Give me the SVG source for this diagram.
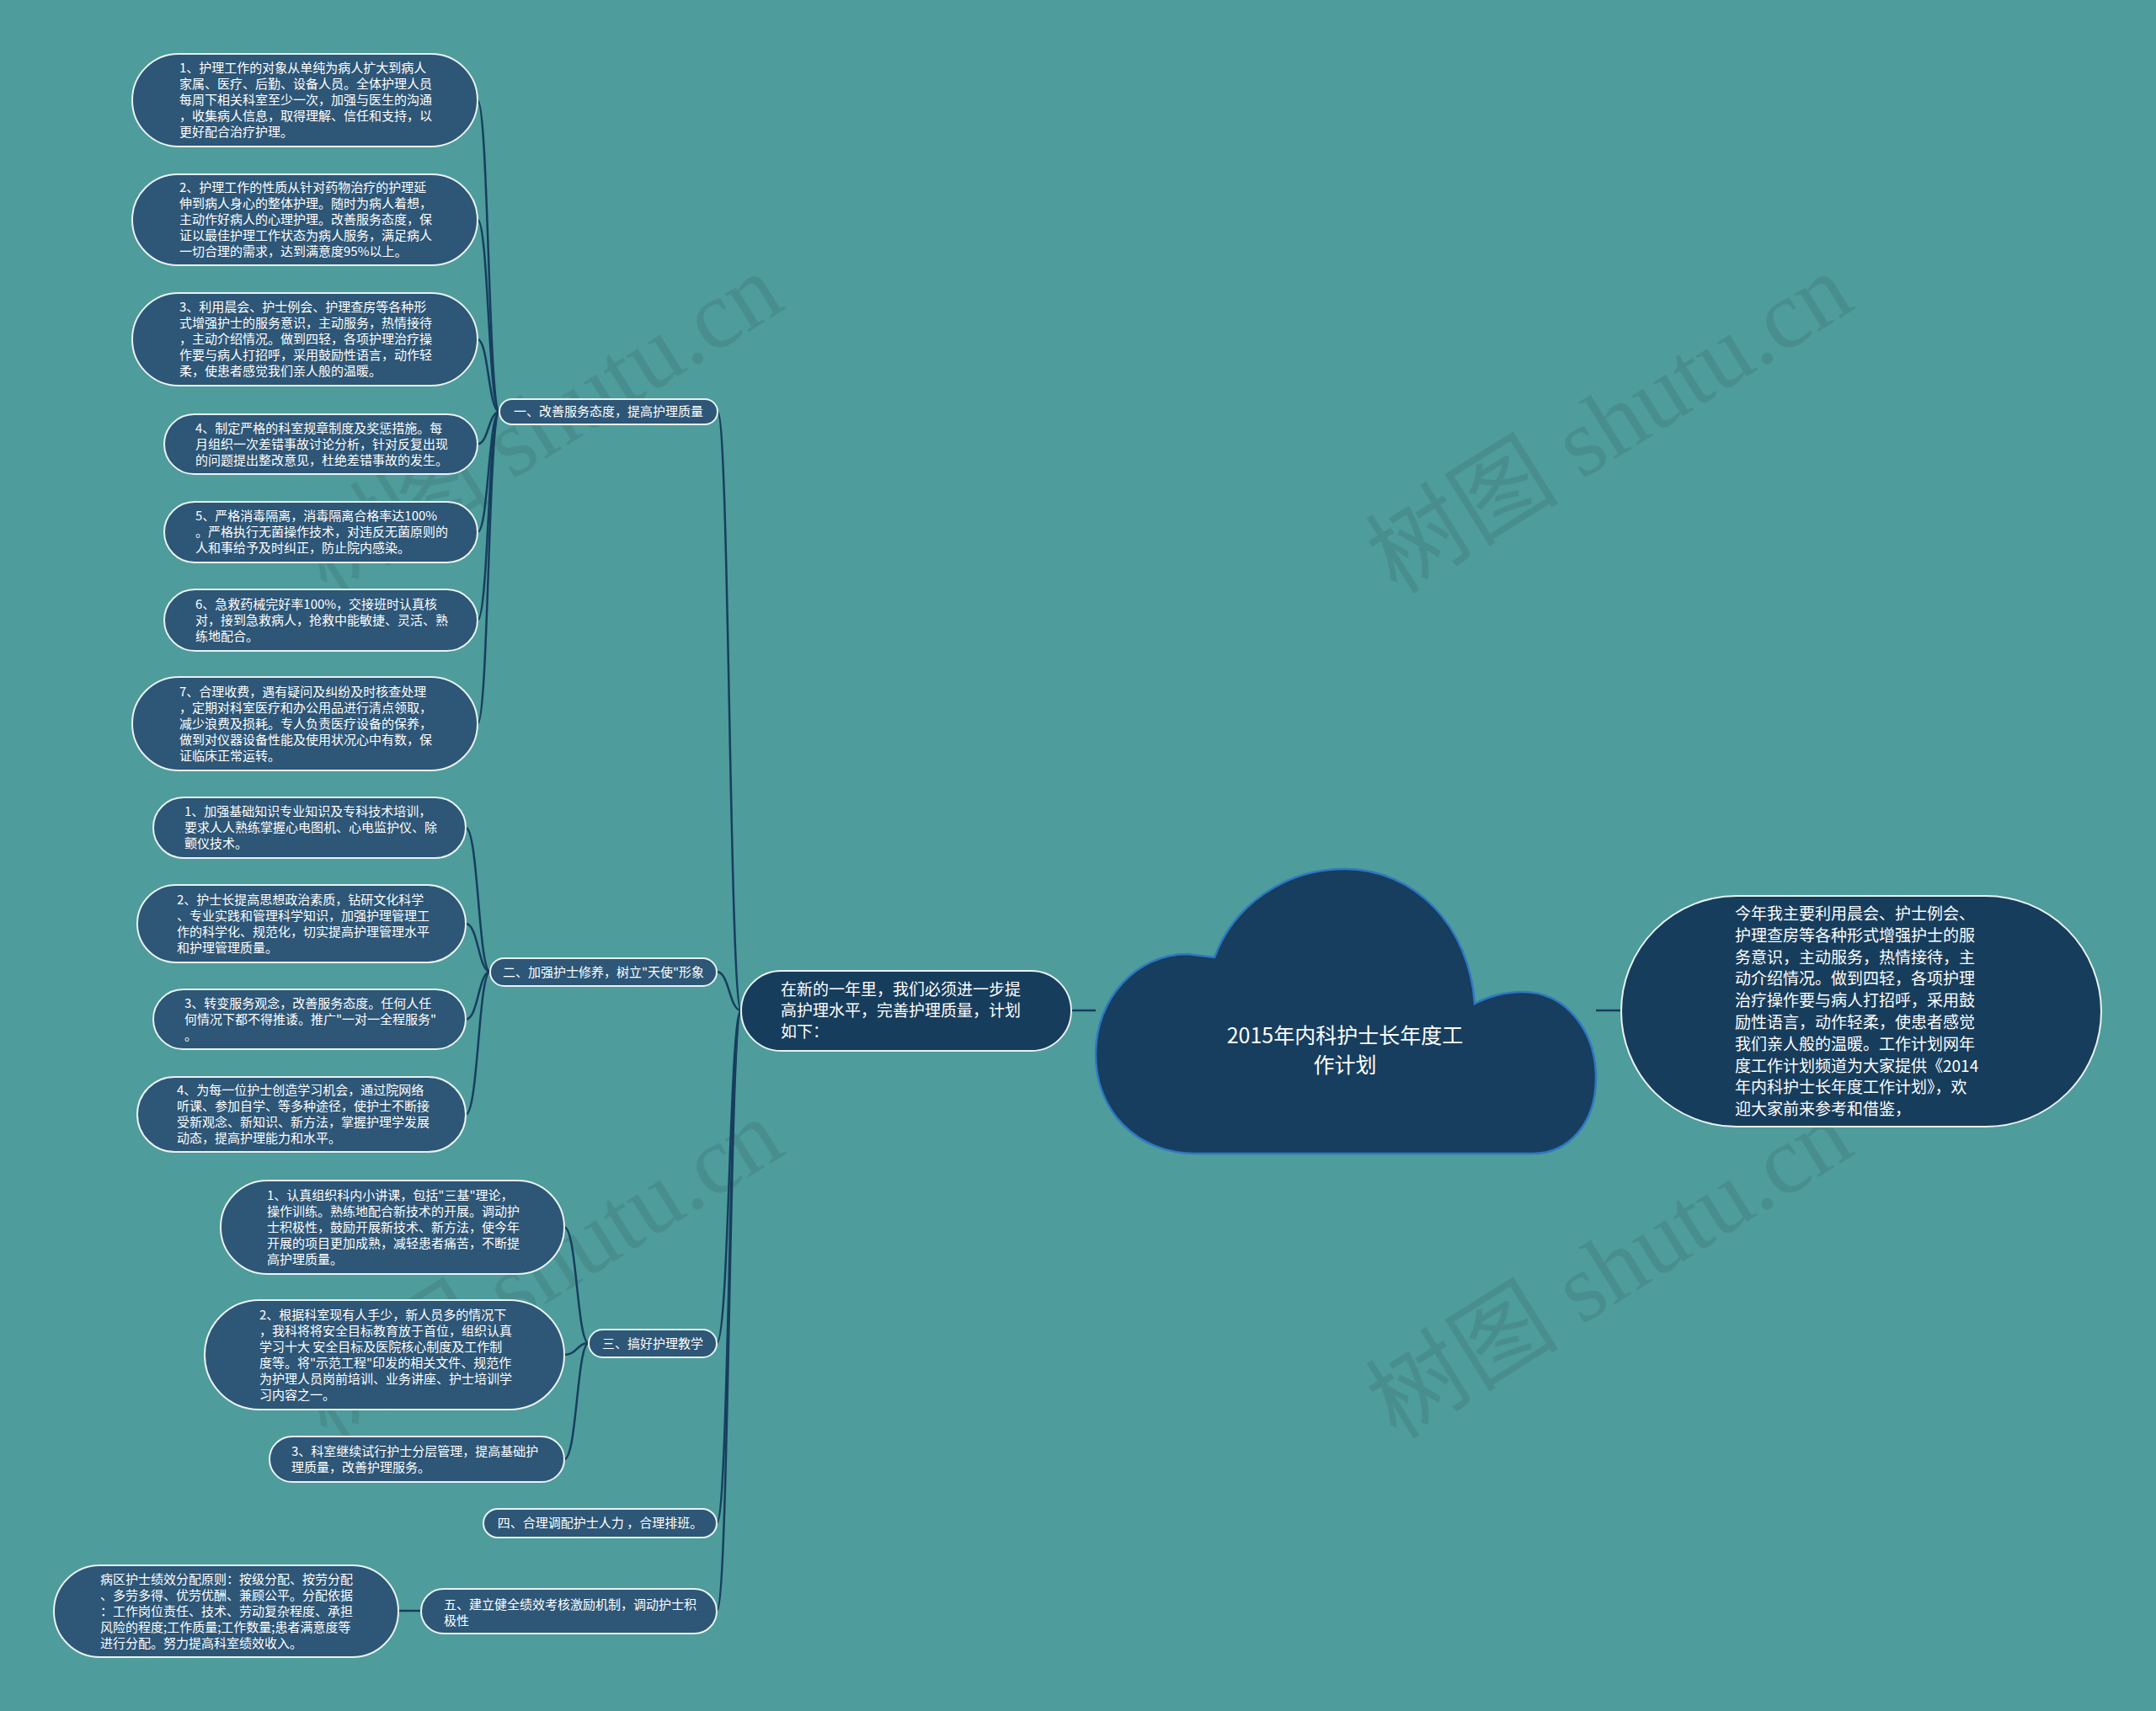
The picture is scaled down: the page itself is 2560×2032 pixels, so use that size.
<svg xmlns="http://www.w3.org/2000/svg" width="2560" height="2032" viewBox="0 0 2560 2032">
<style>
.bg{fill:#4e9c9c}
.leaf{fill:#2d5677;stroke:#eaf2f2;stroke-width:2}
.dark{fill:#173d5c;stroke:#eaf2f2;stroke-width:2}
.cloud{fill:#173e5e;stroke:#2f78c4;stroke-width:2.5}
.t{font-family:"Noto Sans CJK SC","Liberation Sans",sans-serif;fill:#ffffff}
.s15{font-size:15px}
.s19{font-size:19px}
.s25{font-size:25px}
.c{text-anchor:middle}
.wm{font-family:"Liberation Serif","Noto Sans CJK SC",serif;font-size:115px;fill:#3a5a5a;opacity:0.2;text-anchor:middle}
.ln{fill:none;stroke:#173e5e;stroke-width:2.5}
</style>
<rect class="bg" x="0" y="0" width="2560" height="2032"/>

<g id="watermarks">
<text class="wm" x="648" y="540" transform="rotate(-32 648 514)">树图 shutu.cn</text>
<text class="wm" x="1918" y="540" transform="rotate(-32 1918 514)">树图 shutu.cn</text>
<text class="wm" x="648" y="1544" transform="rotate(-32 648 1518)">树图 shutu.cn</text>
<text class="wm" x="1918" y="1544" transform="rotate(-32 1918 1518)">树图 shutu.cn</text>
</g>

<g id="connectors">
<line class="ln" x1="1272" y1="1200" x2="1301" y2="1200"/>
<line class="ln" x1="1895" y1="1200" x2="1925" y2="1200"/>
<path class="ln" d="M880 1200 C866 1200 866 489 852 489"/>
<path class="ln" d="M880 1200 C866 1200 866 1154 851 1154"/>
<path class="ln" d="M880 1200 C866 1200 866 1595 851 1595"/>
<path class="ln" d="M880 1200 C866 1200 866 1809 851 1809"/>
<path class="ln" d="M880 1200 C866 1200 866 1913 851 1913"/>
<path class="ln" d="M593 489 C580 489 580 119 567 119"/>
<path class="ln" d="M593 489 C580 489 580 261 567 261"/>
<path class="ln" d="M593 489 C580 489 580 403 567 403"/>
<path class="ln" d="M593 489 C580 489 580 527.5 567 527.5"/>
<path class="ln" d="M593 489 C580 489 580 632 567 632"/>
<path class="ln" d="M593 489 C580 489 580 736.5 567 736.5"/>
<path class="ln" d="M593 489 C580 489 580 859.5 567 859.5"/>
<path class="ln" d="M582 1154 C568 1154 568 983 553 983"/>
<path class="ln" d="M582 1154 C568 1154 568 1097 553 1097"/>
<path class="ln" d="M582 1154 C568 1154 568 1210.5 553 1210.5"/>
<path class="ln" d="M582 1154 C568 1154 568 1323.5 553 1323.5"/>
<path class="ln" d="M699 1595 C685 1595 685 1457.5 670 1457.5"/>
<path class="ln" d="M699 1595 C685 1595 685 1609 670 1609"/>
<path class="ln" d="M699 1595 C685 1595 685 1733 670 1733"/>
<line class="ln" x1="500" y1="1913" x2="473" y2="1913"/>
</g>

<g id="root">
<path class="cloud" d="M1420 1370 C1350 1370 1301 1320 1301 1252 C1301 1185 1350 1133 1410 1133 L1442 1137 C1465 1075 1525 1032 1597 1032 C1680 1032 1745 1100 1751 1192 C1770 1182 1790 1178 1808 1178 C1860 1178 1895 1225 1895 1280 C1895 1335 1862 1370 1820 1370 Z"/>
<text class="t s25 c" x="1597" y="1239">2015年内科护士长年度工</text>
<text class="t s25 c" x="1597" y="1274">作计划</text>
</g>

<g id="intro">
<rect class="dark" x="880" y="1153" width="392" height="95" rx="47.5"/>
<text class="t s19" x="927"><tspan x="927" y="1182">在新的一年里，我们必须进一步提</tspan><tspan x="927" y="1207">高护理水平，完善护理质量，计划</tspan><tspan x="927" y="1232">如下：</tspan></text>
</g>

<g id="summary">
<rect class="dark" x="1925" y="1064" width="570" height="274" rx="137"/>
<text class="t s19"><tspan x="2060" y="1092">今年我主要利用晨会、护士例会、</tspan><tspan x="2060" y="1117.8">护理查房等各种形式增强护士的服</tspan><tspan x="2060" y="1143.6">务意识，主动服务，热情接待，主</tspan><tspan x="2060" y="1169.4">动介绍情况。做到四轻，各项护理</tspan><tspan x="2060" y="1195.2">治疗操作要与病人打招呼，采用鼓</tspan><tspan x="2060" y="1221">励性语言，动作轻柔，使患者感觉</tspan><tspan x="2060" y="1246.8">我们亲人般的温暖。工作计划网年</tspan><tspan x="2060" y="1272.6">度工作计划频道为大家提供《2014</tspan><tspan x="2060" y="1298.4">年内科护士长年度工作计划》，欢</tspan><tspan x="2060" y="1324.2">迎大家前来参考和借鉴，</tspan></text>
</g>

<g id="b1">
<rect class="leaf" x="593" y="474" width="259" height="30" rx="15"/>
<text class="t s15 c" x="722.5" y="494">一、改善服务态度，提高护理质量</text>
</g>
<g id="b1-1">
<rect class="leaf" x="157" y="64" width="410" height="110" rx="55"/>
<text class="t s15"><tspan x="213" y="86">1、护理工作的对象从单纯为病人扩大到病人</tspan><tspan x="213" y="105">家属、医疗、后勤、设备人员。全体护理人员</tspan><tspan x="213" y="124">每周下相关科室至少一次，加强与医生的沟通</tspan><tspan x="213" y="143">，收集病人信息，取得理解、信任和支持，以</tspan><tspan x="213" y="162">更好配合治疗护理。</tspan></text>
</g>
<g id="b1-2">
<rect class="leaf" x="157" y="207" width="410" height="108" rx="54"/>
<text class="t s15"><tspan x="213" y="228">2、护理工作的性质从针对药物治疗的护理延</tspan><tspan x="213" y="247">伸到病人身心的整体护理。随时为病人着想，</tspan><tspan x="213" y="266">主动作好病人的心理护理。改善服务态度，保</tspan><tspan x="213" y="285">证以最佳护理工作状态为病人服务，满足病人</tspan><tspan x="213" y="304">一切合理的需求，达到满意度95%以上。</tspan></text>
</g>
<g id="b1-3">
<rect class="leaf" x="157" y="348" width="410" height="110" rx="55"/>
<text class="t s15"><tspan x="213" y="370">3、利用晨会、护士例会、护理查房等各种形</tspan><tspan x="213" y="389">式增强护士的服务意识，主动服务，热情接待</tspan><tspan x="213" y="408">，主动介绍情况。做到四轻，各项护理治疗操</tspan><tspan x="213" y="427">作要与病人打招呼，采用鼓励性语言，动作轻</tspan><tspan x="213" y="446">柔，使患者感觉我们亲人般的温暖。</tspan></text>
</g>
<g id="b1-4">
<rect class="leaf" x="195" y="492" width="372" height="71" rx="35.5"/>
<text class="t s15"><tspan x="232" y="513.5">4、制定严格的科室规章制度及奖惩措施。每</tspan><tspan x="232" y="532.5">月组织一次差错事故讨论分析，针对反复出现</tspan><tspan x="232" y="551.5">的问题提出整改意见，杜绝差错事故的发生。</tspan></text>
</g>
<g id="b1-5">
<rect class="leaf" x="195" y="596" width="372" height="72" rx="36"/>
<text class="t s15"><tspan x="232" y="618">5、严格消毒隔离，消毒隔离合格率达100%</tspan><tspan x="232" y="637">。严格执行无菌操作技术，对违反无菌原则的</tspan><tspan x="232" y="656">人和事给予及时纠正，防止院内感染。</tspan></text>
</g>
<g id="b1-6">
<rect class="leaf" x="195" y="700" width="372" height="73" rx="36.5"/>
<text class="t s15"><tspan x="232" y="722.5">6、急救药械完好率100%，交接班时认真核</tspan><tspan x="232" y="741.5">对，接到急救病人，抢救中能敏捷、灵活、熟</tspan><tspan x="232" y="760.5">练地配合。</tspan></text>
</g>
<g id="b1-7">
<rect class="leaf" x="157" y="804" width="410" height="111" rx="55.5"/>
<text class="t s15"><tspan x="213" y="826.5">7、合理收费，遇有疑问及纠纷及时核查处理</tspan><tspan x="213" y="845.5">，定期对科室医疗和办公用品进行清点领取，</tspan><tspan x="213" y="864.5">减少浪费及损耗。专人负责医疗设备的保养，</tspan><tspan x="213" y="883.5">做到对仪器设备性能及使用状况心中有数，保</tspan><tspan x="213" y="902.5">证临床正常运转。</tspan></text>
</g>

<g id="b2">
<rect class="leaf" x="582" y="1138" width="269" height="33" rx="16.5"/>
<text class="t s15 c" x="716.5" y="1159.5">二、加强护士修养，树立"天使"形象</text>
</g>
<g id="b2-1">
<rect class="leaf" x="182" y="947" width="371" height="72" rx="36"/>
<text class="t s15"><tspan x="219" y="969">1、加强基础知识专业知识及专科技术培训，</tspan><tspan x="219" y="988">要求人人熟练掌握心电图机、心电监护仪、除</tspan><tspan x="219" y="1007">颤仪技术。</tspan></text>
</g>
<g id="b2-2">
<rect class="leaf" x="163" y="1051" width="390" height="92" rx="46"/>
<text class="t s15"><tspan x="210" y="1073.5">2、护士长提高思想政治素质，钻研文化科学</tspan><tspan x="210" y="1092.5">、专业实践和管理科学知识，加强护理管理工</tspan><tspan x="210" y="1111.5">作的科学化、规范化，切实提高护理管理水平</tspan><tspan x="210" y="1130.5">和护理管理质量。</tspan></text>
</g>
<g id="b2-3">
<rect class="leaf" x="182" y="1175" width="371" height="71" rx="35.5"/>
<text class="t s15"><tspan x="219" y="1196.5">3、转变服务观念，改善服务态度。任何人任</tspan><tspan x="219" y="1215.5">何情况下都不得推诿。推广"一对一全程服务"</tspan><tspan x="219" y="1234.5">。</tspan></text>
</g>
<g id="b2-4">
<rect class="leaf" x="163" y="1279" width="390" height="89" rx="44.5"/>
<text class="t s15"><tspan x="210" y="1300">4、为每一位护士创造学习机会，通过院网络</tspan><tspan x="210" y="1319">听课、参加自学、等多种途径，使护士不断接</tspan><tspan x="210" y="1338">受新观念、新知识、新方法，掌握护理学发展</tspan><tspan x="210" y="1357">动态，提高护理能力和水平。</tspan></text>
</g>

<g id="b3">
<rect class="leaf" x="699" y="1579" width="152" height="33" rx="16.5"/>
<text class="t s15 c" x="775" y="1600.5">三、搞好护理教学</text>
</g>
<g id="b3-1">
<rect class="leaf" x="262" y="1402" width="408" height="111" rx="55.5"/>
<text class="t s15"><tspan x="317" y="1424.5">1、认真组织科内小讲课，包括"三基"理论，</tspan><tspan x="317" y="1443.5">操作训练。熟练地配合新技术的开展。调动护</tspan><tspan x="317" y="1462.5">士积极性，鼓励开展新技术、新方法，使今年</tspan><tspan x="317" y="1481.5">开展的项目更加成熟，减轻患者痛苦，不断提</tspan><tspan x="317" y="1500.5">高护理质量。</tspan></text>
</g>
<g id="b3-2">
<rect class="leaf" x="243" y="1544" width="427" height="130" rx="65"/>
<text class="t s15"><tspan x="308" y="1566.5">2、根据科室现有人手少，新人员多的情况下</tspan><tspan x="308" y="1585.5">，我科将将安全目标教育放于首位，组织认真</tspan><tspan x="308" y="1604.5">学习十大 安全目标及医院核心制度及工作制</tspan><tspan x="308" y="1623.5">度等。将"示范工程"印发的相关文件、规范作</tspan><tspan x="308" y="1642.5">为护理人员岗前培训、业务讲座、护士培训学</tspan><tspan x="308" y="1661.5">习内容之一。</tspan></text>
</g>
<g id="b3-3">
<rect class="leaf" x="320" y="1706" width="350" height="54" rx="27"/>
<text class="t s15"><tspan x="346" y="1728.5">3、科室继续试行护士分层管理，提高基础护</tspan><tspan x="346" y="1747.5">理质量，改善护理服务。</tspan></text>
</g>

<g id="b4">
<rect class="leaf" x="574" y="1792" width="277" height="34" rx="17"/>
<text class="t s15 c" x="712.5" y="1814">四、合理调配护士人力 ，合理排班。</text>
</g>

<g id="b5">
<rect class="leaf" x="500" y="1887" width="351" height="53" rx="26.5"/>
<text class="t s15"><tspan x="527" y="1911">五、建立健全绩效考核激励机制，调动护士积</tspan><tspan x="527" y="1930">极性</tspan></text>
</g>
<g id="b5-1">
<rect class="leaf" x="64" y="1859" width="409" height="109" rx="54.5"/>
<text class="t s15"><tspan x="119" y="1880.5">病区护士绩效分配原则：按级分配、按劳分配</tspan><tspan x="119" y="1899.5">、多劳多得、优劳优酬、兼顾公平。分配依据</tspan><tspan x="119" y="1918.5">：工作岗位责任、技术、劳动复杂程度、承担</tspan><tspan x="119" y="1937.5">风险的程度;工作质量;工作数量;患者满意度等</tspan><tspan x="119" y="1956.5">进行分配。努力提高科室绩效收入。</tspan></text>
</g>
</svg>
